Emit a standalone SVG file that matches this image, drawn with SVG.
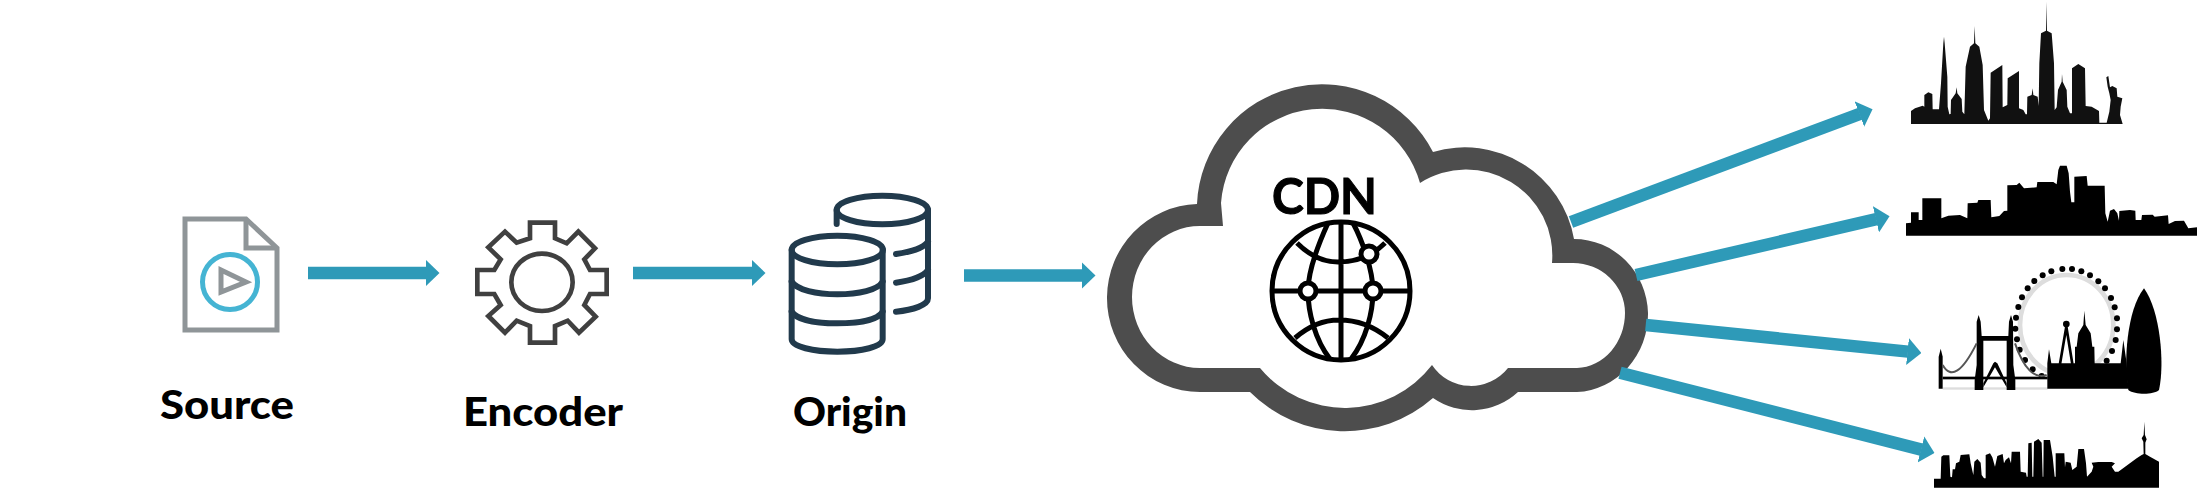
<svg xmlns="http://www.w3.org/2000/svg" width="2197" height="501" viewBox="0 0 2197 501">
<style>
.lbl{font-family:"Lato","Liberation Sans",sans-serif;font-weight:900;fill:#000;text-anchor:start}
.conn{fill:none;stroke:#2e9ab8;stroke-width:12.5;marker-end:url(#ah)}
.db{fill:none;stroke:#213a4c;stroke-width:18;stroke-linecap:round}
.glb{fill:none;stroke:#000;stroke-width:5}
.nd{fill:#fff;stroke:#000;stroke-width:5}
.city{fill:#000;stroke:none}
</style>
<defs>
<marker id="ah" markerUnits="userSpaceOnUse" viewBox="0 0 14 27" refX="0.5" refY="13.5" markerWidth="14" markerHeight="27" orient="auto"><path d="M0 0L14 13.5L0 27Z" fill="#2e9ab8"/></marker>
</defs>
<rect width="2197" height="501" fill="#fff"/>
<g id="source">
<path d="M185 219H246L277 248V330H185Z" fill="none" stroke="#8f9598" stroke-width="5"/>
<path d="M246 219V248H277" fill="none" stroke="#8f9598" stroke-width="5"/>
<circle cx="230" cy="282" r="27.5" fill="none" stroke="#45b4d3" stroke-width="5"/>
<path d="M221 270L246 282L221 292Z" fill="none" stroke="#8f9598" stroke-width="5"/>
<text class="lbl" x="160" y="419" font-size="40" textLength="134" lengthAdjust="spacingAndGlyphs">Source</text>
</g>
<g id="encoder">
<g transform="translate(150 190) scale(.33333)">
<path d="M1140 98H1215V145L1250 160L1285 125L1335 175L1303 208L1320 240H1370V312H1320L1303 345L1337 380L1287 428L1253 392L1215 408V458H1140V408L1100 392L1065 428L1015 378L1052 345L1033 312H982V240H1033L1052 208L1015 172L1065 125L1100 158L1140 145Z" fill="none" stroke="#404040" stroke-width="14"/>
<ellipse cx="1176" cy="277" rx="92" ry="86" fill="none" stroke="#404040" stroke-width="14"/>
</g>
<text class="lbl" x="463" y="426" font-size="40" textLength="160" lengthAdjust="spacingAndGlyphs">Encoder</text>
</g>
<g id="origin">
<g transform="translate(640 180) scale(.33333)">
<ellipse class="db" cx="592" cy="210" rx="137" ry="43"/>
<path class="db" d="M455 210V478C455 500 520 515 592 515C665 515 728 500 728 478V210"/>
<path class="db" d="M455 305C470 330 530 343 592 343C655 343 715 330 728 305"/>
<path class="db" d="M455 395C470 420 530 430 592 430C655 430 715 420 728 395"/>
<ellipse class="db" cx="727" cy="90" rx="137" ry="43"/>
<path class="db" d="M590 90V132M864 90V355C864 375 820 390 768 395M864 185C850 205 810 216 768 222M864 270C850 290 810 302 768 308"/>
</g>
<text class="lbl" x="793" y="426" font-size="40" textLength="114" lengthAdjust="spacingAndGlyphs">Origin</text>
</g>
<g id="cdn">
<path fill="#4d4d4d" d="M1197 204A125 125 0 0 1 1433 152A111 111 0 0 1 1574 239A74 76 0 0 1 1648 313A74 78 0 0 1 1577 392H1518A68 68 0 0 1 1433 398A134 134 0 0 1 1250 392H1200A93 94 0 0 1 1107 297A93 94 0 0 1 1197 204Z"/>
<path fill="#fff" d="M1223 226L1221 203A101.500 101.500 0 0 1 1420 183A86 86 0 0 1 1552 263H1573A52 50 0 0 1 1625 313A50 55 0 0 1 1577 368H1508A47 47 0 0 1 1432 365A110 110 0 0 1 1260 368H1200A68 71 0 0 1 1132 297A68 71 0 0 1 1200 226Z"/>
<text class="lbl" style="font-weight:700;stroke:#000;stroke-width:1" x="1272" y="214" font-size="50" textLength="105" lengthAdjust="spacingAndGlyphs">CDN</text>
<circle class="glb" cx="1341" cy="291" r="69"/>
<path class="glb" d="M1341 222V360M1272 291H1410M1328 223C1318 245 1308 270 1308 291C1308 312 1315 340 1330 359M1353 223C1362 240 1373 270 1373 291C1373 312 1366 340 1351 359M1297 243C1310 256 1325 262 1338 262C1352 262 1370 258 1385 243M1295 338C1310 325 1325 320 1339 320C1355 320 1372 325 1388 338"/>
<circle class="nd" cx="1308" cy="291" r="8"/>
<circle class="nd" cx="1373" cy="291" r="8"/>
<circle class="nd" cx="1369" cy="254" r="8"/>
</g>
<g id="connectors">
<path class="conn" d="M308 273H426"/>
<path class="conn" d="M633 273H752"/>
<path class="conn" d="M964 275.500H1082"/>
<path class="conn" d="M1571 222L1859.900 113.900"/>
<path class="conn" d="M1636 275L1876.400 219.200"/>
<path class="conn" d="M1645.700 325L1908 351.600"/>
<path class="conn" d="M1620 372.700L1921.400 449.600"/>
</g>
<g id="city-new-york" transform="translate(1860 0) scale(.33333)">
<polygon class="city" style="fill:#111" points="153,372 153,333 165,325 188,317 193,320 193,285 205,277 217,282 218,328 237,328 243,250 250,130 252,110 254,130 262,230 263,320 268,343 272,342 273,300 287,280 290,262 292,280 305,297 307,335 313,343 317,200 330,140 342,130 344,78 346,130 358,140 368,195 372,330 385,362 390,355 392,218 427,195 428,322 442,315 443,235 477,213 477,325 490,330 497,343 501,343 502,290 515,285 518,265 520,285 533,290 536,318 538,190 543,100 558,92 559,5 561,92 575,100 582,190 584,330 590,322 594,270 605,245 606,222 608,245 620,270 622,320 630,340 636,340 636,205 655,192 675,205 677,318 695,320 717,333 718,368 740,368 748,335 752,300 748,280 743,260 739,232 745,228 750,262 757,258 770,265 772,290 787,295 782,320 780,345 788,372"/>
</g>
<g id="city-los-angeles" transform="translate(1860 0) scale(.33333)">
<polygon class="city" points="138,707 138,670 153,668 153,637 176,637 176,660 187,660 187,595 244,595 244,655 265,647 300,645 322,655 323,610 352,608 355,600 392,600 394,652 418,648 432,633 442,632 442,556 470,555 478,548 492,565 530,562 532,546 580,546 590,553 595,510 600,497 620,497 626,520 630,575 634,607 643,607 643,530 680,528 683,557 734,557 736,640 743,665 750,632 762,627 772,640 777,662 778,633 810,630 826,632 827,660 844,660 846,645 878,644 884,650 924,646 926,672 945,663 972,662 985,685 1011,682 1011,707"/>
</g>
<g id="city-london" transform="translate(1860 250) scale(.33333)">
<rect x="248" y="412" width="315" height="7" fill="#ddd"/>
<ellipse cx="620" cy="225" rx="140" ry="150" fill="none" stroke="#ddd" stroke-width="14"/>
<g class="city">
<circle cx="607" cy="57" r="9"/><circle cx="636" cy="57" r="9"/><circle cx="664" cy="64" r="9"/><circle cx="690" cy="76" r="9"/><circle cx="715" cy="94" r="9"/><circle cx="735" cy="115" r="9"/><circle cx="753" cy="144" r="9"/><circle cx="764" cy="172" r="9"/><circle cx="771" cy="205" r="9"/><circle cx="771" cy="238" r="9"/><circle cx="767" cy="270" r="9"/><circle cx="756" cy="303" r="9"/><circle cx="740" cy="332" r="9"/>
<circle cx="574" cy="64" r="9"/><circle cx="548" cy="76" r="9"/><circle cx="523" cy="93" r="9"/><circle cx="503" cy="115" r="9"/><circle cx="486" cy="142" r="9"/><circle cx="475" cy="171" r="9"/><circle cx="468" cy="203" r="9"/><circle cx="466" cy="236" r="9"/><circle cx="471" cy="268" r="9"/><circle cx="479" cy="299" r="9"/><circle cx="495" cy="330" r="9"/><circle cx="518" cy="358" r="9"/><circle cx="545" cy="378" r="9"/>
<polygon points="236,416 236,320 242,296 248,320 248,416"/>
<polygon points="344,420 344,390 350,345 350,215 356,195 362,215 365,258 445,258 447,215 453,195 459,215 460,345 466,390 466,420 440,420 440,272 370,272 370,420"/>
<rect x="248" y="380" width="315" height="8"/>
<polygon points="370,400 400,340 405,335 412,340 440,400 440,412 405,352 370,412"/>
<polygon points="562,416 562,340 567,298 574,340 645,340 645,290 650,290 655,250 670,225 673,182 677,225 692,250 697,290 703,290 704,340 782,340 790,270 800,340 805,416"/>
<circle cx="619" cy="222" r="10"/>
<path d="M805 420C790 340 800 180 852 115C900 180 915 340 897 420C880 435 825 435 805 420Z"/>
</g>
<path d="M248 345Q285 410 350 280M465 280Q505 395 560 375" fill="none" stroke="#555" stroke-width="6"/>
<path d="M619 230L600 342M619 230L637 342" fill="none" stroke="#000" stroke-width="8"/>
</g>
<g id="city-seoul" transform="translate(1860 250) scale(.33333)">
<polygon class="city" points="222,713 222,686 242,686 244,620 250,616 268,616 271,680 276,682 278,658 285,658 288,640 298,635 302,615 328,613 332,640 340,675 343,635 352,627 362,638 365,675 372,685 377,685 377,615 390,610 397,622 405,650 412,618 428,612 432,640 437,630 447,622 453,640 455,605 480,605 482,665 498,668 500,680 503,680 505,580 515,578 517,680 520,680 522,575 535,567 545,578 548,680 550,680 551,570 570,570 578,620 584,680 587,680 587,610 613,610 615,652 617,635 632,638 637,660 650,650 655,597 672,597 678,640 681,680 695,665 700,650 695,638 715,636 755,636 765,640 755,650 765,665 775,665 830,625 845,615 851,612 850,575 845,565 851,555 853,515 855,555 860,568 856,578 856,612 870,620 897,635 897,713"/>
</g>
</svg>
